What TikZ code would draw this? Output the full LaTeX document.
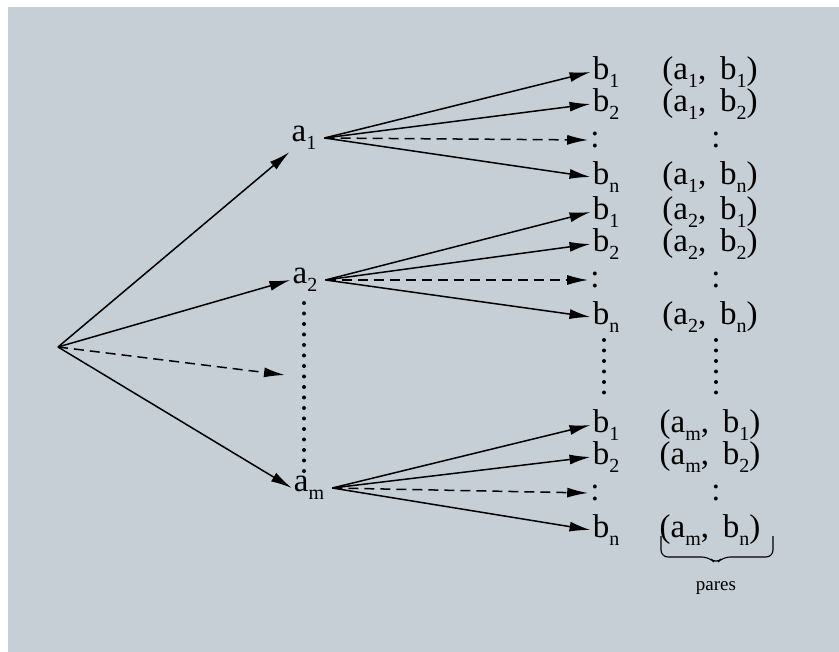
\documentclass[tikz,border=0pt]{standalone}
\usepackage{fontspec}
\setmainfont{Liberation Serif}
\usetikzlibrary{arrows.meta}
\newcommand\lo[1]{\raisebox{-0.25em}{\fontsize{20}{20}\selectfont #1}}
\definecolor{paper}{RGB}{198,206,214}

\begin{document}
\begin{tikzpicture}[x=1pt,y=-1pt,
  lbl/.style={font=\fontsize{33}{34}\selectfont,inner sep=2pt},
  arr/.style={-{Latex[length=21pt,width=10pt]},line width=1.5pt},
  darr/.style={arr,dash pattern=on 10pt off 6pt},
  dots/.style={line width=4pt,line cap=round,dash pattern=on 0pt off 10.5pt}]
  \fill[white] (0,0) rectangle (839,652);
  \fill[paper] (8,7) rectangle (839,652);
  \useasboundingbox (0,0) rectangle (839,652);
  % root and first level
  \coordinate (o) at (58,347);
  \node[lbl] (a1) at (304,138) {a\lo1};
  \node[lbl] (a2) at (305,280) {a\lo2};
  \node[lbl] (am) at (309,488) {a\lo{m}};
  \coordinate (ad) at (285,375);
  \draw[arr] (o) -- (a1.south west);
  \draw[arr] (o) -- (a2.west);
  \draw[darr] (o) -- (ad);
  \draw[arr] (o) -- (am.west);
  \draw[dots] (304,303) -- (304,474);
  % second level
  \foreach \g/\ga/\yy in {1/1/72,2/2/212,m/m/425}{
    \node[lbl] (b\g1) at (606,\yy) {b\lo1};
    \node[lbl] (b\g2) at (606,\yy+32) {b\lo2};
    \node[lbl] (b\g d) at (595,\yy+68) {:};
    \node[lbl] (b\g n) at (606,\yy+105) {b\lo{n}};
    \node[lbl] (p\g1) at (710,\yy) {(a\lo{\ga}, \,b\lo1)};
    \node[lbl] (p\g2) at (710,\yy+32) {(a\lo{\ga}, \,b\lo2)};
    \node[lbl] (p\g d) at (716,\yy+68) {:};
    \node[lbl] (p\g n) at (710,\yy+105) {(a\lo{\ga}, \,b\lo{n})};
    \coordinate (s\g) at ([xshift=6pt]a\g.east);
    \draw[arr] (s\g) -- (b\g1.west);
    \draw[arr] (s\g) -- (b\g2.west);
    \draw[darr] (s\g) -- (b\g d.west);
    \draw[arr] (s\g) -- (b\g n.west);
  }
  \draw[dots] (604,340) -- (604,394);
  \draw[dots] (716,340) -- (716,394);
  % brace
  \draw[line width=1.1pt,rounded corners=7pt]
    (661,536) -- (661,557) -- (709,557) -- (716,564) -- (723,557) -- (773,557) -- (773,536);
  \node[font=\fontsize{19}{20}\selectfont] (pares) at (716,588) {pares};
\end{tikzpicture}
\end{document}
